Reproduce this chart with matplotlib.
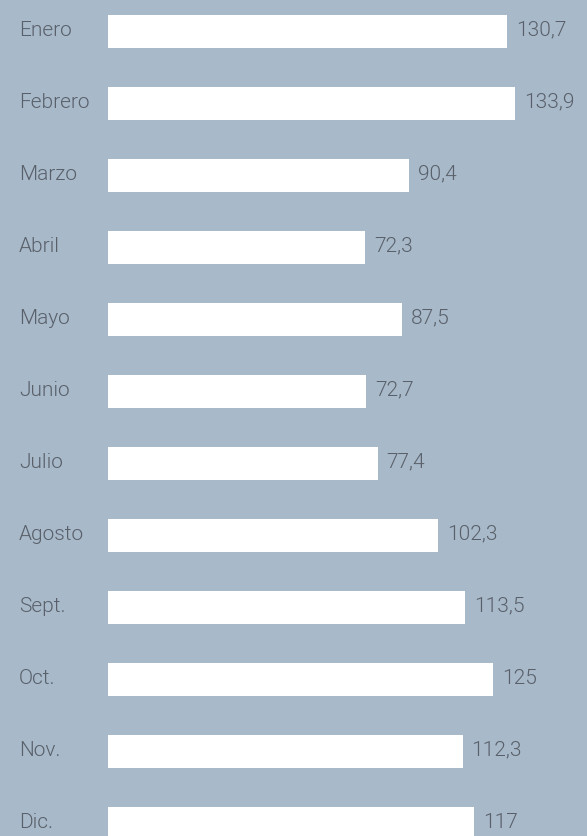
import numpy as np
import matplotlib
matplotlib.use("Agg")
import matplotlib.pyplot as plt
from matplotlib.transforms import blended_transform_factory

# datos
meses = ["Enero", "Febrero", "Marzo", "Abril", "Mayo", "Junio", "Julio",
         "Agosto", "Sept.", "Oct.", "Nov.", "Dic."]
valores = [130.7, 133.9, 90.4, 72.3, 87.5, 72.7, 77.4, 102.3, 113.5, 125, 112.3, 117]
etiquetas = ["130,7", "133,9", "90,4", "72,3", "87,5", "72,7", "77,4",
             "102,3", "113,5", "125", "112,3", "117"]

bg = "#a8b9c9"
txt = "#59606a"
base = -33.3  # bars start here, not at zero

plt.rcParams["font.family"] = ["Roboto", "DejaVu Sans"]

fig = plt.figure(figsize=(5.87, 8.36), dpi=100, facecolor=bg)
ax = fig.add_axes([0, 0, 1, 1])
ax.set_facecolor(bg)

y = np.arange(len(meses)) * 72.0
vals = np.array(valores)
ax.barh(y, vals - base, left=base, height=33, color="white", edgecolor="none")

ax.set_xlim(-77.66, 163.4)
ax.set_ylim(836 - 31, -31)
ax.axis("off")

trans = blended_transform_factory(ax.transAxes, ax.transData)
for yi, m in zip(y, meses):
    ax.text(19 / 587, yi - 1, m, transform=trans, ha="left", va="center",
            fontsize=15, color=txt, fontweight=300)

for yi, v, lab in zip(y, vals, etiquetas):
    ax.annotate(lab, (v, yi - 1), xytext=(9, 0), textcoords="offset pixels",
                ha="left", va="center", fontsize=15, color=txt,
                fontweight=300)

fig.savefig("out.png", dpi=100, facecolor=bg)
